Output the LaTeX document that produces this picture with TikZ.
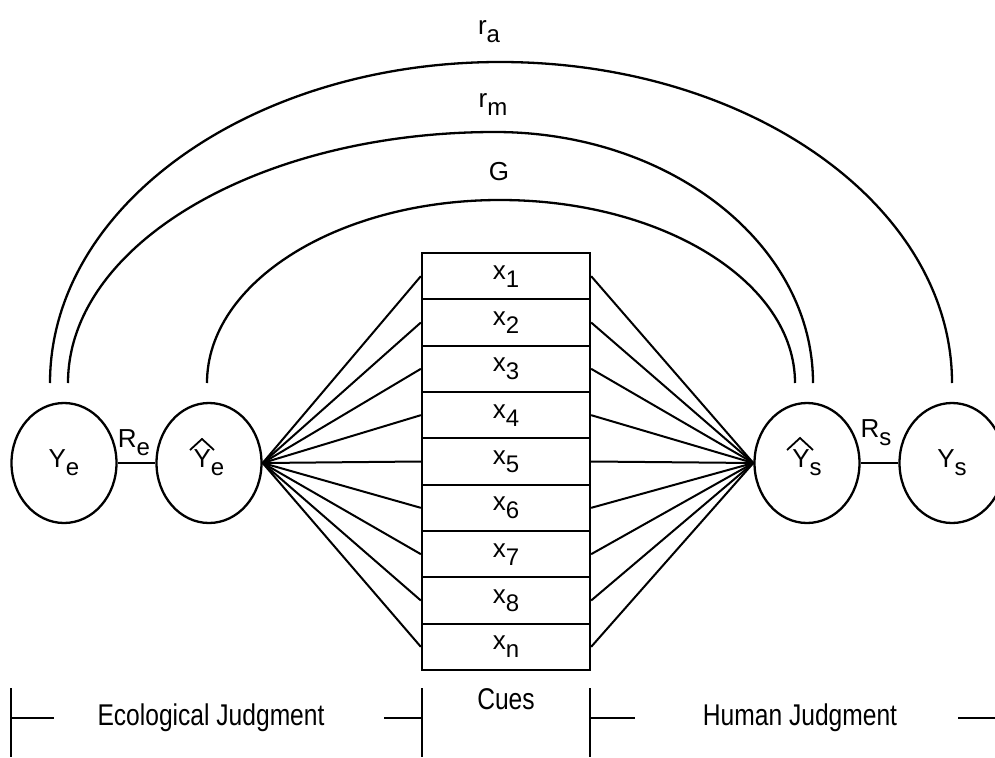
\documentclass[tikz,border=0pt]{standalone}
\usepackage{fontspec}
\setmainfont{Liberation Sans}
\usetikzlibrary{shapes.geometric,calc}
\newcommand\sbs[1]{\raisebox{-8pt}{\fontsize{24}{27}\selectfont #1}}
\newcommand\cond[1]{\scalebox{0.82}[1]{#1}}
\begin{document}
\begin{tikzpicture}[x=1pt,y=-1pt,line width=2.3pt,
  every node/.style={font=\fontsize{26}{30}\selectfont, inner sep=0pt},
  judge/.style={ellipse, draw, minimum width=105pt, minimum height=120pt},
  cue/.style={draw, minimum width=168pt, minimum height=46.33pt},
  bigtext/.style={font=\fontsize{30}{34}\selectfont},
  hatline/.style={line width=1.8pt}]
\useasboundingbox (0,0) rectangle (995,757);

% judgment circles
\node[judge] (ye)  at (64,463)  {Y\sbs{e}};
\node[judge] (yeh) at (209,463) {Y\sbs{e}};
\node[judge] (ysh) at (807,463) {Y\sbs{s}};
\node[judge] (ys)  at (952,463) {Y\sbs{s}};

% hats
\draw[hatline] ($(yeh)+(-19,-13)$) -- ($(yeh)+(-7,-24)$) -- ($(yeh)+(5,-13)$);
\draw[hatline] ($(ysh)+(-20,-13)$) -- ($(ysh)+(-7,-25)$) -- ($(ysh)+(6,-13)$);

% R links
\draw (ye.east) -- (yeh.west);
\draw (ysh.east) -- (ys.west);
\node (re) at (134,443) {R\sbs{e}};
\node (rs) at (876,433) {R\sbs{s}};

% arc end points
\coordinate (a1) at ($(ye)+(-14,-80)$);
\coordinate (a2) at ($(ys)+(0,-80)$);
\coordinate (m1) at ($(ye)+(4,-80)$);
\coordinate (m2) at ($(ysh)+(6,-80)$);
\coordinate (g1) at ($(yeh)+(-2,-80)$);
\coordinate (g2) at ($(ysh)+(-12,-80)$);

\draw (a1) .. controls (50,205.7) and (251.5,62) .. (500,62)
           .. controls (749.6,62) and (952,205.7) .. (a2);
\draw (m1) .. controls (68,244.4) and (259.2,132) .. (495,132)
           .. controls (670.6,132) and (813,244.4) .. (m2);
\draw (g1) .. controls (207,282) and (338.2,200) .. (500,200)
           .. controls (662.9,200) and (795,282) .. (g2);

\node (ra) at (489,32)  {r\sbs{a}};
\node (rm) at (493,105) {r\sbs{m}};
\node (gl) at (499,172) {G};

% cues
\foreach \i/\s in {1/1,2/2,3/3,4/4,5/5,6/6,7/7,8/8,9/n}
  \node[cue] (c\i) at (506,{253+46.333*(\i-0.5)}) {x\sbs{\s}};

\foreach \i in {1,...,9} {
  \draw[line width=2pt] (yeh.east) -- (c\i.west);
  \draw[line width=2pt] (c\i.east) -- (ysh.west);
}

% bottom brackets
\node[bigtext] (eco)  at (211,718) {\cond{Ecological Judgment}};
\node[bigtext] (hum)  at (800,718) {\cond{Human Judgment}};
\node[bigtext] (cues) at (506,699) {\cond{Cues}};

\coordinate (t1a) at (11,688);  \coordinate (t1b) at (11,757);
\coordinate (t2a) at (422,688); \coordinate (t2b) at (422,757);
\coordinate (t3a) at (590,688); \coordinate (t3b) at (590,757);
\draw[line width=1.8pt] (t1a) -- (t1b);
\draw[line width=1.8pt] (t2a) -- (t2b);
\draw[line width=1.8pt] (t3a) -- (t3b);
\draw[line width=1.8pt] (11,718) -- (54,718);
\draw[line width=1.8pt] (384,718) -- (422,718);
\draw[line width=1.8pt] (590,718) -- (635,718);
\draw[line width=1.8pt] (958,718) -- (995,718);
\end{tikzpicture}
\end{document}
